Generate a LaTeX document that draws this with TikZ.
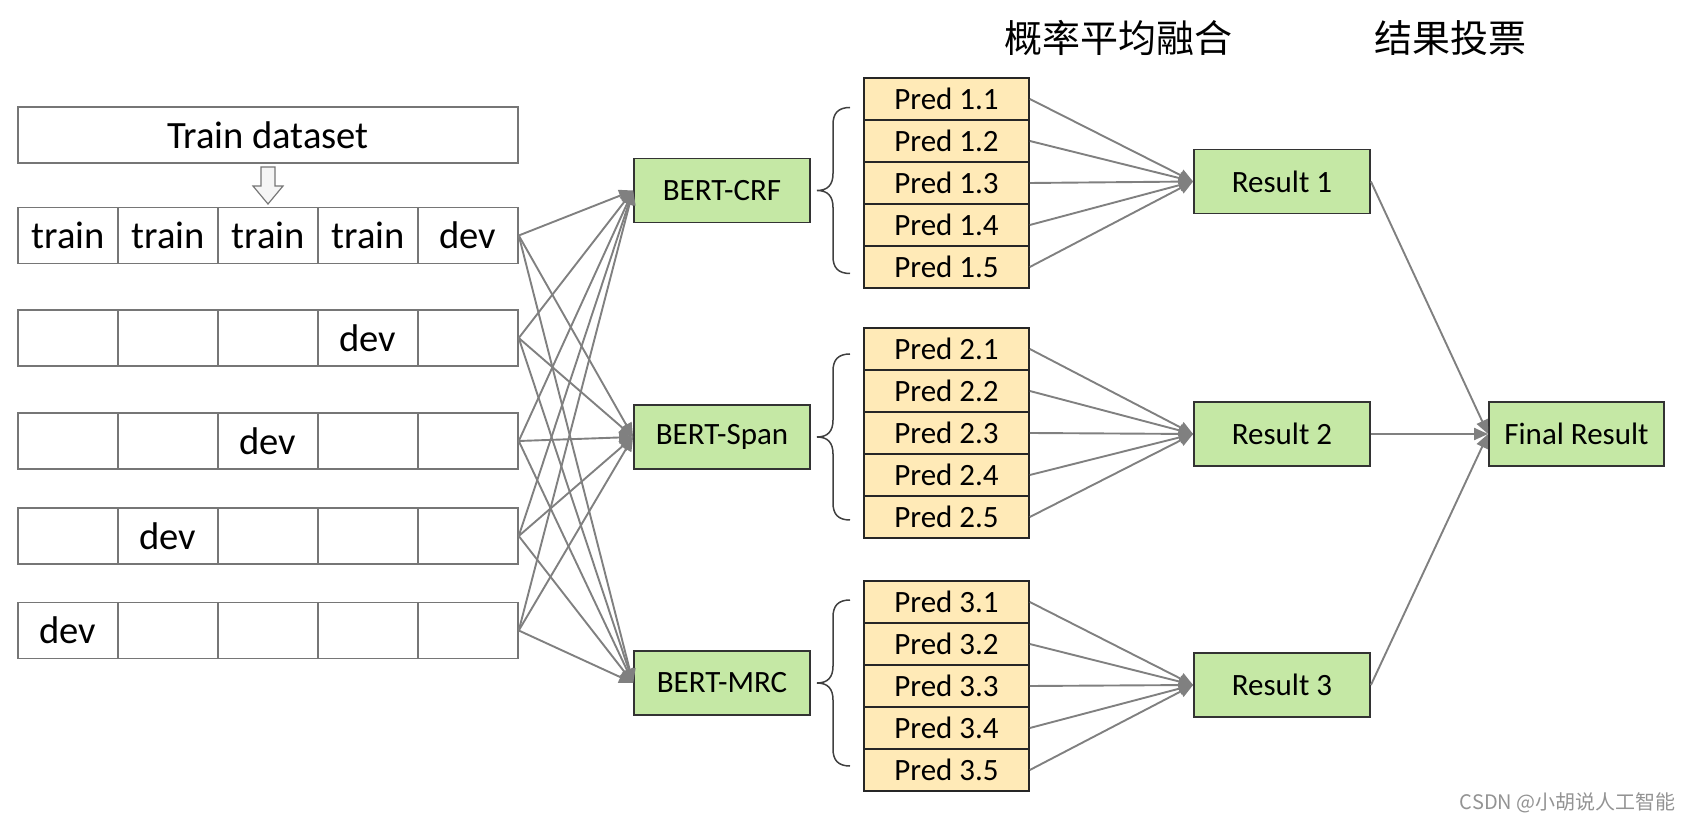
\documentclass[tikz,border=0pt]{standalone}
\usepackage{fontspec}
\setmainfont{Carlito}
\newfontfamily\cjk{Noto Sans CJK SC}
\usetikzlibrary{arrows.meta}

\definecolor{boxgreen}{RGB}{197,232,165}
\definecolor{predyellow}{RGB}{255,234,183}
\definecolor{cellgray}{RGB}{118,118,118}
\definecolor{bracegray}{RGB}{64,64,64}

\tikzset{
  cell/.style={draw=cellgray, line width=0.75pt, minimum width=50pt, minimum height=28pt,
    inner sep=0pt, font=\fontsize{19.3}{22}\selectfont},
  model/.style={draw=black!80, fill=boxgreen, line width=0.9pt, minimum width=88pt,
    minimum height=32pt, inner sep=0pt, font=\fontsize{15.5}{18}\selectfont},
  pred/.style={draw=black!85, fill=predyellow, line width=0.8pt, minimum width=82.5pt,
    minimum height=21pt, inner sep=0pt, font=\fontsize{15.5}{18}\selectfont},
  link/.style={draw=gray, line width=0.95pt, -{Triangle[length=7pt,width=6pt]}},
  heading/.style={font=\cjk\fontsize{19}{22}\selectfont},
}

\begin{document}
\begin{tikzpicture}[x=0.5pt,y=-0.5pt]

	\useasboundingbox (0,0) rectangle (1690,822);

	% data split
	\node[cell, minimum width=250pt] (trainset) at (268,135) {Train dataset};
	\draw[cellgray, fill=gray!8, line width=0.6pt] (261,167) -- (275,167) -- (275,186) -- (283,186)
		-- (268,204) -- (253,186) -- (261,186) -- cycle;
	\foreach \r/\y/\d in {1/235.5/5, 2/338/4, 3/441/3, 4/536/2, 5/630.5/1} {
		\foreach \k in {1,...,5} {
			\node[cell] (c\r\k) at ({68+100*(\k-1)},\y)
				{\ifnum\k=\d dev\else\ifnum\r=1 train\fi\fi};
		}
	}

	% models
	\node[model] (crf) at (722,190.5) {BERT-CRF};
	\node[model] (span) at (722,437) {BERT-Span};
	\node[model] (mrc) at (722,683) {BERT-MRC};

	\foreach \r in {1,...,5}
		\foreach \m in {crf,span,mrc}
			\draw[link] (c\r5.east) -- (\m.west);

	% braces
	\foreach \c in {190.5,437,683}
		\draw[bracegray, line width=0.75pt] (850,{\c-83}) .. controls (838,{\c-83}) and (833,{\c-77}) .. (833,{\c-66})
			-- (833,{\c-17}) .. controls (833,{\c-6}) and (828,\c) .. (817,\c)
			.. controls (828,\c) and (833,{\c+6}) .. (833,{\c+17})
			-- (833,{\c+66}) .. controls (833,{\c+77}) and (838,{\c+83}) .. (850,{\c+83});

	% predictions
	\foreach \g/\t in {1/78, 2/328, 3/581}
		\foreach \i in {1,...,5}
			\node[pred] (p\g\i) at (946.5,{\t+21+42*(\i-1)}) {Pred \g.\i};

	% results
	\node[model] (r1) at (1282,181.5) {Result 1};
	\node[model] (r2) at (1282,434) {Result 2};
	\node[model] (r3) at (1282,685) {Result 3};
	\node[model, minimum width=87.5pt] (final) at (1576.5,434) {Final Result};

	\foreach \g in {1,2,3} {
		\foreach \i in {1,...,5}
			\draw[link] (p\g\i.east) -- (r\g.west);
		\draw[link] (r\g.east) -- (final.west);
	}

	\node[heading] (hfuse) at (1118,38) {概率平均融合};
	\node[heading] (hvote) at (1450,38) {结果投票};
	\node[font=\cjk\fontsize{10}{12}\selectfont, text=gray!85, anchor=east, inner sep=0pt] (mark) at (1676,803)
		{CSDN @小胡说人工智能};

\end{tikzpicture}
\end{document}
